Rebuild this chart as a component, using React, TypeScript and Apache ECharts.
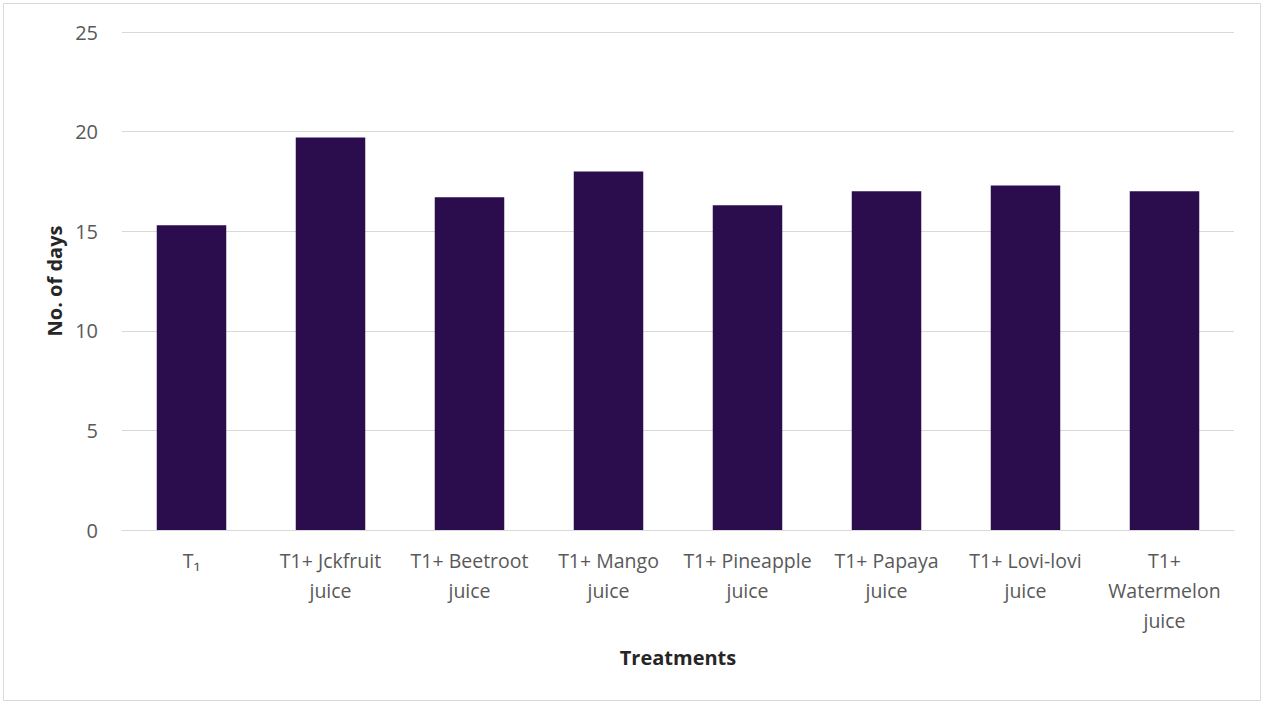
import React, { useEffect, useRef } from "react";
import * as echarts from "echarts";

const treatments = [
  "T₁",
  "T1+ Jckfruit\njuice",
  "T1+ Beetroot\njuice",
  "T1+ Mango\njuice",
  "T1+ Pineapple\njuice",
  "T1+ Papaya\njuice",
  "T1+ Lovi-lovi\njuice",
  "T1+\nWatermelon\njuice",
];

const noOfDays = [15.3, 19.7, 16.7, 18.0, 16.3, 17.0, 17.3, 17.0];

const yTicks = [0, 5, 10, 15, 20, 25];

const FONT = "'Open Sans', Lato, sans-serif";

export default function App() {
  const ref = useRef<HTMLDivElement>(null);

  useEffect(() => {
    if (!ref.current) return;
    const chart = echarts.init(ref.current, null, { renderer: "svg" });
    chart.setOption({
      animation: false,
      backgroundColor: "#ffffff",
      grid: { left: 122, right: 30, top: 32, bottom: 175 },
      xAxis: {
        type: "category",
        data: treatments,
        name: "Treatments",
        nameLocation: "middle",
        nameGap: 117,
        nameTextStyle: {
          fontFamily: FONT,
          fontSize: 20,
          fontWeight: "bold",
          color: "#262626",
        },
        axisLine: { show: true, lineStyle: { color: "#d9d9d9", width: 1 } },
        axisTick: { show: false },
        axisLabel: {
          interval: 0,
          margin: 15,
          fontFamily: FONT,
          fontSize: 19.5,
          lineHeight: 30,
          color: "#595959",
        },
      },
      yAxis: {
        type: "value",
        min: yTicks[0],
        max: yTicks[yTicks.length - 1],
        interval: 5,
        name: "No. of days",
        nameLocation: "middle",
        nameGap: 57,
        nameRotate: 90,
        nameTextStyle: {
          fontFamily: FONT,
          fontSize: 20,
          fontWeight: "bold",
          color: "#262626",
        },
        axisLine: { show: false },
        axisTick: { show: false },
        axisLabel: {
          margin: 24,
          fontFamily: FONT,
          fontSize: 20,
          color: "#595959",
        },
        splitLine: { show: true, lineStyle: { color: "#d9d9d9", width: 1 } },
      },
      series: [
        {
          type: "bar",
          data: noOfDays,
          barWidth: "50%",
          itemStyle: { color: "#2b0d4e" },
        },
      ],
      graphic: [
        {
          type: "rect",
          shape: { x: 3.5, y: 3.5, width: 1257, height: 697 },
          style: { fill: "none", stroke: "#d9d9d9", lineWidth: 1 },
          silent: true,
        },
      ],
    });
    return () => chart.dispose();
  }, []);

  return (
    <div
      ref={ref}
      style={{ position: "absolute", left: 0, top: 0, width: 1264, height: 705 }}
    />
  );
}
